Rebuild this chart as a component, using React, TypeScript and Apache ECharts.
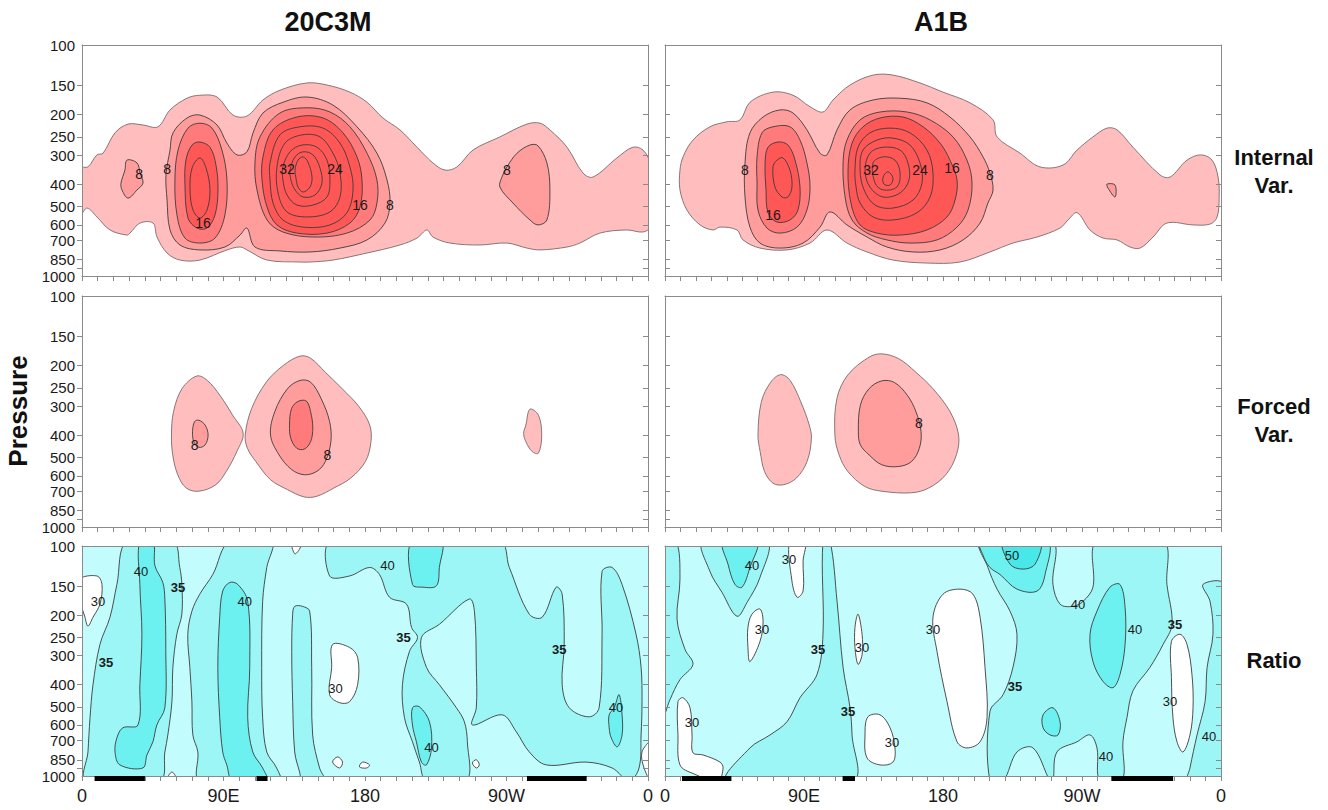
import { useEffect, useRef } from 'react';
import * as echarts from 'echarts';

// ---------- axes ----------
const PRESSURE_LABELS = [100, 150, 200, 250, 300, 400, 500, 600, 700, 850, 1000];
const PRESSURE_TICKS = [150, 200, 250, 300, 400, 500, 600, 700, 850, 925];
const LON_TICKS = Array.from({ length: 37 }, (_, i) => i * 10);
const LON_LABELS = [0, 90, 180, 270, 360];
const LON_NAMES = ['0', '90E', '180', '90W', '0'];
const COLUMN_TITLES = ['20C3M', 'A1B'];
const ROW_TITLES = [['Internal', 'Var.'], ['Forced', 'Var.'], ['Ratio']];

// land bars at the bottom of the ratio panels [lonStart, lonEnd]
const LAND_20C = [[8, 40], [111, 118], [283, 321]];
const LAND_A1B = [[11, 43], [115, 123], [289, 329]];

// ---------- Internal variance, 20C3M : contours [lon, hPa] ----------
const INT20_C4 = [[-1, 341], [3.8, 337], [9.5, 299], [13.4, 294], [21, 240], [29.3, 220], [38.8, 222], [48.3, 226], [56, 191], [66.8, 170], [75, 165], [85.9, 168], [96, 201], [104.9, 203], [115.1, 173], [125.9, 157], [143.1, 146], [155.8, 149], [170.4, 160], [181.3, 177], [191.4, 207], [202.2, 233], [213.1, 277], [223.2, 324], [230.9, 348], [238.5, 337], [248.7, 285], [265.8, 250], [283, 220], [291.3, 218], [297.6, 233], [308.5, 277], [318.6, 358], [325, 373], [340.3, 308], [350.4, 277], [356.8, 285], [361, 324], [361, 614], [356.8, 645], [346.6, 632], [329.4, 652], [316.7, 720], [308.5, 749], [291.3, 771], [283, 757], [270.3, 720], [253.1, 734], [234, 720], [223.2, 678], [219.4, 632], [213.1, 685], [202.2, 734], [181.3, 795], [159.6, 853], [145, 870], [138.7, 870], [117.7, 853], [104.9, 771], [100.5, 749], [92.2, 771], [75, 853], [62.3, 853], [54.1, 795], [47.7, 678], [45.2, 590], [36.9, 590], [30.5, 652], [28.6, 665], [17.8, 632], [9.5, 555], [3.2, 508], [-1, 544]];
const INT20_C8A = [[28.6, 315], [35, 324], [36.9, 358], [38.8, 396], [35, 424], [29.3, 460], [25.4, 424], [24.8, 396], [27.3, 348]];
const INT20_C8B = [[56, 285], [57.9, 240], [66.8, 207], [75, 201], [85.9, 222], [92.2, 266], [98.6, 299], [104.9, 290], [108.8, 240], [115.1, 197], [127.8, 177], [143.1, 168], [159.6, 182], [174.9, 226], [187.6, 294], [194, 384], [195.9, 483], [192.7, 590], [181.3, 698], [164.1, 757], [145, 787], [125.9, 779], [110, 749], [104.9, 620], [100.5, 665], [90.9, 749], [75, 771], [62.3, 734], [56, 632], [54.1, 469], [53.4, 365]];
const INT20_C8C = [[270.3, 337], [276.7, 294], [284.9, 271], [290, 273], [295.7, 324], [297.6, 424], [295.7, 572], [290, 601], [284.9, 572], [274.1, 483], [265.8, 412], [267.1, 373]];
const INT20_C12A = [[59.1, 384], [61.1, 285], [67.4, 229], [75, 218], [82.7, 229], [89, 285], [92.2, 384], [90.9, 544], [84.6, 685], [75, 720], [65.5, 685], [60.4, 544]];
const INT20_C16A = [[65.5, 404], [66.1, 315], [70, 271], [75, 263], [81.4, 277], [85.2, 331], [86.5, 424], [84.6, 544], [79.5, 620], [73.1, 620], [67.4, 561]];
const INT20_C20A = [[68.7, 424], [70, 341], [75, 308], [78.9, 341], [81.4, 424], [79.5, 518], [75, 561], [70.6, 518]];
const INT20_C12B = [[113.2, 250], [125.9, 197], [143.1, 187], [157.7, 195], [170.4, 226], [181.3, 294], [187.6, 384], [187.6, 483], [183.2, 572], [168.5, 652], [146.9, 678], [127.8, 645], [117.7, 572], [111.3, 424], [110, 324]];
const INT20_C16B = [[115.1, 305], [121.5, 233], [136.7, 205], [153.3, 207], [166, 240], [174.9, 305], [178.1, 384], [176.8, 503], [170.4, 590], [155.8, 652], [136.7, 652], [124, 601], [117.7, 503], [114.5, 384]];
const INT20_C20B = [[119.6, 324], [125.9, 245], [138.6, 226], [153.3, 229], [164.1, 266], [170.4, 337], [172.4, 424], [168.5, 532], [157.7, 601], [140.6, 614], [127.8, 572], [121.5, 483], [119.6, 384]];
const INT20_C24B = [[124, 337], [129.1, 266], [139.9, 245], [151.4, 250], [159.6, 294], [164.1, 358], [164.1, 455], [157.7, 528], [143.1, 555], [130.4, 528], [124.7, 437]];
const INT20_C28B = [[127.8, 337], [132.3, 290], [139.9, 271], [149.5, 277], [155.8, 315], [157.7, 384], [155.8, 455], [146.9, 493], [136.7, 493], [130.4, 446], [127.8, 384]];
const INT20_C32B = [[132.3, 348], [135.5, 305], [140.6, 290], [146.9, 299], [151.4, 341], [152.6, 396], [148.2, 446], [140.6, 455], [135.5, 424], [132.9, 384]];
const INT20_C36B = [[135.5, 348], [137.4, 315], [140.6, 305], [143.7, 321], [146.3, 373], [145, 412], [140.6, 433], [137.4, 412], [136.1, 377]];
const INT20_LABELS = [[36.3, 361, '8'], [54.1, 344, '8'], [77, 589, '16'], [130.4, 344, '32'], [160.9, 344, '24'], [176.8, 493, '16'], [195.9, 493, '8'], [270.3, 348, '8']];

// ---------- Internal variance, A1B ----------
const INTA_C4 = [[9.7, 348], [11.7, 305], [18.1, 258], [29.1, 226], [40.1, 215], [48.6, 211], [55, 177], [69.9, 160], [82.9, 165], [93.9, 185], [102.3, 195], [108.8, 173], [119.8, 149], [134.7, 135], [147.6, 135], [165.1, 146], [180, 160], [197.5, 178], [212.4, 211], [215, 250], [229.9, 294], [242.8, 337], [257.7, 331], [266.8, 285], [277.1, 250], [286.2, 229], [292.7, 233], [303, 277], [320.5, 365], [327, 373], [338, 315], [346.9, 299], [354.2, 315], [358.1, 373], [358.8, 455], [357.5, 555], [352.9, 596], [341.9, 601], [325, 590], [316, 678], [307.6, 757], [301.1, 749], [292.7, 698], [283.6, 685], [275.2, 632], [266.8, 532], [261, 572], [255.8, 620], [240.9, 678], [225.3, 720], [210.4, 787], [191, 870], [169.6, 879], [147.6, 853], [130.8, 787], [117.8, 720], [104.9, 632], [93.9, 720], [79, 771], [61.5, 757], [50.5, 698], [46.6, 632], [35.6, 614], [31.1, 632], [22.7, 601], [14.2, 518], [9.7, 424]];
const INTA_C8 = [[51.8, 324], [55, 240], [63.5, 205], [74.5, 191], [82.9, 197], [91.9, 233], [100.4, 294], [104.9, 299], [111.4, 233], [119.8, 191], [134.7, 173], [152.2, 170], [169.6, 178], [184.5, 205], [197.5, 250], [205.9, 305], [210.4, 358], [212.4, 424], [209.1, 483], [204, 590], [193, 698], [178.1, 771], [160.6, 787], [143.7, 749], [130.8, 678], [117.8, 601], [106.8, 528], [100.4, 614], [89.4, 720], [74.5, 757], [61.5, 720], [55, 614], [51.8, 455]];
const INTA_C8T = [[286.2, 400], [291.4, 404], [291.4, 455], [286.8, 416]];
const INTA_C12A = [[59.6, 305], [62.8, 240], [69.9, 226], [80.9, 226], [87.4, 258], [91.9, 324], [93.9, 412], [91.9, 518], [85.5, 614], [74.5, 652], [66, 620], [60.2, 518], [59.6, 396]];
const INTA_C16A = [[64.8, 324], [66.7, 277], [73.2, 263], [79.6, 271], [84.2, 315], [87.4, 412], [86.1, 518], [80.9, 572], [72.5, 584], [66.7, 532], [65.4, 424]];
const INTA_C20A = [[69.9, 337], [72.5, 315], [76.4, 308], [80.9, 348], [82.2, 412], [79.6, 455], [75.8, 455], [71.2, 412]];
const INTA_C12B = [[115.3, 324], [117.8, 258], [126.3, 211], [139.2, 195], [156.7, 195], [171.6, 211], [186.5, 250], [195.5, 315], [198.8, 396], [196.2, 518], [189.1, 614], [176.1, 698], [158.6, 720], [143.7, 698], [130.8, 652], [121.1, 572], [116.6, 455]];
const INTA_C16B = [[118.5, 348], [121.1, 266], [128.2, 226], [139.2, 207], [154.1, 205], [167.1, 226], [178.1, 266], [184.5, 315], [189.1, 384], [187.8, 469], [182.6, 555], [169.6, 632], [152.2, 665], [137.3, 652], [126.3, 601], [120.4, 483]];
const INTA_C20B = [[123, 348], [125, 277], [132.7, 240], [145.7, 229], [158.6, 240], [169.6, 285], [173.5, 358], [171.6, 455], [163.2, 532], [147.6, 572], [134.7, 555], [126.3, 483], [123.7, 412]];
const INTA_C24B = [[126.3, 348], [128.2, 285], [137.3, 258], [147.6, 253], [158.6, 271], [165.1, 324], [166.4, 396], [160.6, 469], [147.6, 508], [136, 493], [128.9, 424]];
const INTA_C28B = [[129.5, 348], [132.7, 294], [141.2, 277], [152.2, 285], [157.3, 324], [158, 384], [152.2, 437], [141.2, 455], [132.7, 412]];
const INTA_C32B = [[134.7, 324], [141.2, 305], [148.9, 315], [152.2, 358], [150.2, 412], [141.2, 424], [136, 396]];
const INTA_C36B = [[141.2, 373], [144.4, 354], [147.6, 377], [145.7, 404], [141.8, 400]];
const INTA_LABELS = [[51.8, 348, '8'], [69.9, 544, '16'], [133.4, 348, '32'], [165.1, 348, '24'], [185.8, 340, '16'], [210.4, 365, '8']];

// ---------- Forced variance, 20C3M ----------
const FOR20_C4A = [[56.9, 400], [58.2, 317], [63.6, 252], [73, 222], [79.7, 232], [87.7, 269], [95.8, 328], [102.5, 393], [98.5, 471], [91.8, 574], [85.1, 656], [74.3, 700], [66.3, 678], [60.9, 594], [57.7, 487]];
const FOR20_C8A = [[71.6, 350], [74.3, 345], [78.3, 362], [80.2, 400], [78.3, 441], [74.3, 452], [71.1, 427], [70.3, 387]];
const FOR20_C4B = [[103.8, 400], [107.9, 307], [117.2, 236], [128, 200], [138.7, 182], [145.4, 186], [154.8, 214], [165.5, 252], [176.3, 302], [183, 362], [183.8, 427], [180.3, 520], [170.9, 614], [160.2, 678], [149.4, 736], [141.4, 741], [130.7, 689], [119.9, 624], [110.5, 520], [105.2, 456]];
const FOR20_C8B = [[119.9, 400], [122.6, 317], [130.7, 252], [138.7, 232], [145.4, 236], [152.1, 278], [157.5, 350], [158.3, 427], [154.8, 520], [149.4, 574], [141.4, 594], [133.3, 564], [125.3, 487]];
const FOR20_C12B = [[132, 362], [133.3, 307], [137.4, 286], [142.7, 285], [145.4, 317], [146.8, 373], [145.4, 427], [141.4, 460], [136.6, 456], [132.8, 413]];
const FOR20_C4C = [[282.3, 362], [284.9, 309], [290.3, 328], [292.4, 400], [290.3, 479], [286.3, 471], [282.3, 427], [280.9, 393]];
const FOR20_LABELS = [[71.6, 441, '8'], [156, 487, '8']];

// ---------- Forced variance, A1B ----------
const FORA_C4A = [[60.2, 400], [62.4, 287], [68.5, 236], [74.9, 219], [81, 232], [87.9, 287], [93.4, 362], [94.8, 413], [92, 520], [85.1, 614], [76.8, 656], [69.9, 646], [64.4, 574], [61.6, 471]];
const FORA_C4B = [[110, 400], [111.3, 278], [118.3, 220], [132.1, 184], [140.4, 178], [151.4, 187], [162.5, 214], [173.5, 252], [184.6, 317], [190.1, 400], [188.7, 487], [181.8, 594], [170.8, 678], [159.7, 711], [140.4, 700], [129.3, 667], [118.3, 574], [112.7, 487]];
const FORA_C8B = [[125.2, 387], [126.5, 297], [132.1, 252], [140.4, 233], [148.6, 237], [156.9, 269], [162.5, 317], [165.8, 387], [164.7, 456], [159.7, 520], [151.4, 547], [140.4, 538], [132.1, 487], [126.5, 441]];
const FORA_LABELS = [[164.4, 355, '8']];

// ---------- Ratio, 20C3M (background 30-35) ----------
const R20_M1 = [[28.6, 95], [22.2, 147], [17.8, 204], [11.4, 268], [7, 401], [5.1, 558], [3.8, 786], [2.5, 1050], [49.5, 1050], [52.7, 786], [54.6, 663], [57.2, 475], [57.8, 337], [60.3, 242], [63.5, 198], [63.5, 147], [62.2, 124], [57.8, 95]];
const R20_D1 = [[36.8, 95], [36.8, 147], [38.1, 242], [36.8, 401], [35.6, 600], [26, 617], [22.2, 682], [21, 786], [24.1, 895], [38.7, 923], [41.3, 810], [45.1, 710], [47.6, 600], [52.7, 505], [53.3, 282], [52.7, 170], [51.4, 144], [46.4, 122], [45.1, 95]];
const R20_M2 = [[94, 95], [83.2, 133], [74.9, 162], [69.9, 192], [67.3, 242], [68.6, 337], [69.9, 475], [70.5, 663], [73.7, 786], [74.9, 1050], [125.7, 1050], [123.8, 923], [117.5, 786], [114.9, 558], [114.3, 337], [114.9, 174], [117.5, 124], [120.7, 95]];
const R20_D2 = [[94, 144], [99.1, 147], [105.4, 174], [106.7, 337], [105.4, 558], [108.6, 786], [114.9, 923], [117.5, 1050], [95.9, 1050], [92.1, 895], [89.5, 786], [87.6, 558], [86.4, 337], [87.6, 204], [89.5, 157]];
const R20_M3 = [[134, 198], [135.3, 183], [140.3, 183], [144.8, 192], [146.1, 337], [146.7, 663], [151.1, 923], [154.3, 1050], [140.3, 1050], [138.4, 960], [135.3, 786], [134, 475], [133.4, 287]];
const R20_M5 = [[158.8, 95], [157.5, 135], [170.2, 135], [182.9, 124], [189.2, 133], [195.6, 167], [206.4, 179], [209.6, 226], [213.4, 250], [208.3, 287], [203.8, 401], [205.1, 558], [210.2, 710], [214.6, 870], [219.1, 1050], [244.5, 1050], [245.1, 710], [243.2, 581], [238.1, 505], [227.3, 401], [219.1, 337], [215.9, 250], [227.3, 219], [246.4, 170], [249.6, 192], [250.8, 337], [250.8, 505], [248.3, 600], [267.3, 542], [276.2, 642], [284.5, 786], [295.3, 895], [320.7, 870], [337.2, 923], [348, 1050], [354.3, 923], [355.6, 663], [356.2, 475], [355.6, 337], [352.4, 242], [343.5, 147], [337.2, 124], [330.8, 129], [330.8, 242], [328.9, 505], [322.6, 553], [309.9, 505], [305.4, 401], [306.7, 268], [305.4, 162], [301.6, 151], [292.7, 204], [284.5, 198], [271.8, 124], [265.4, 95]];
const R20_D4 = [[209.6, 95], [210.2, 147], [216.5, 151], [225.4, 149], [227.3, 124], [228.6, 95]];
const R20_D5 = [[335.3, 542], [338.5, 505], [341.6, 443], [343.5, 542], [343.5, 663], [340.4, 747], [336.6, 682], [335.3, 617]];
const R20_D6 = [[210.2, 505], [214.6, 500], [221, 581], [222.3, 755], [219.1, 895], [215.9, 870], [212.7, 710], [210.2, 600]];
const R20_W1 = [[-2, 140], [9.5, 135], [12.7, 147], [11.4, 179], [7, 204], [3.8, 223], [1.9, 204], [-2, 165]];
const R20_W2 = [[159.4, 268], [170.2, 276], [175.3, 305], [175.3, 401], [170.2, 475], [163.8, 480], [157.5, 443], [158.8, 337]];
const R20_W3 = [[159.4, 870], [162.6, 826], [165.7, 870], [163.8, 923]];
const R20_W5 = [[133.4, 95], [135.3, 108], [138.4, 103], [139.7, 95]];
const R20_W6 = [[54, 1050], [57.2, 960], [60.3, 1050]];
const R20_W7 = [[178.4, 870], [182.9, 895], [181, 923], [176.5, 913]];
const R20_W8 = [[248.3, 877], [250.8, 850], [252.7, 895], [250.8, 923]];
const R20_W9 = [[356.2, 786], [362, 710], [362, 1050], [357.5, 923]];
const R20_LABELS = [[37.5, 129, '40'], [61, 152, '35'], [103.5, 174, '40'], [10.2, 174, '30'], [15.2, 321, '35'], [194.3, 122, '40'], [204.5, 250, '35'], [161.3, 417, '30'], [303.5, 282, '35'], [222.3, 755, '40'], [339.7, 505, '40']];

// ---------- Ratio, A1B ----------
const RA_MB = [[-2, 95], [7.1, 95], [9.7, 139], [7.8, 208], [13, 282], [18.1, 327], [9.7, 381], [3.2, 466], [-2, 570]];
const RA_MA = [[24.6, 95], [29.1, 129], [36.9, 159], [46.6, 202], [53.1, 176], [61.5, 137], [66, 95]];
const RA_DA = [[37.6, 95], [40.8, 120], [45.3, 147], [49.9, 151], [55, 124], [59.6, 95]];
const RA_MC = [[102.3, 95], [106.8, 95], [111.4, 174], [115.3, 337], [119.8, 505], [121.1, 663], [121.7, 1050], [40.1, 1050], [55, 755], [68, 663], [79, 581], [87.4, 457], [98.4, 362], [102.3, 242]];
const RA_MF = [[204, 95], [250.6, 95], [251.2, 147], [255.8, 179], [264.2, 183], [270.7, 174], [277.1, 151], [279.7, 95], [322.5, 95], [325, 147], [328.3, 219], [322.5, 268], [314, 337], [303, 426], [299.1, 558], [296.5, 710], [295.9, 1050], [281.7, 1050], [279.7, 755], [275.2, 663], [266.8, 710], [253.8, 786], [251.2, 1050], [249.3, 1050], [238.3, 755], [227.9, 786], [218.9, 1050], [210.4, 1050], [210.4, 524], [218.9, 443], [225.3, 337], [227.9, 242], [223.4, 192], [215, 154], [209.1, 124]];
const RA_ME = [[204, 95], [247.3, 95], [246.1, 133], [240.9, 157], [227.9, 154], [216.9, 133], [210.4, 124], [206, 110]];
const RA_EE = [[218.9, 95], [223.4, 120], [231.8, 126], [239.6, 120], [242.8, 95]];
const RA_DI = [[275.2, 242], [279.7, 192], [288.1, 151], [294.6, 147], [297.9, 185], [297.9, 268], [294.6, 362], [290.1, 413], [283.6, 388], [277.1, 318]];
const RA_DJ = [[244.8, 542], [251.2, 505], [255.8, 581], [254.5, 663], [249.3, 663], [244.8, 617]];
const RA_MR = [[348.3, 147], [352.9, 174], [354.8, 242], [351, 337], [349.7, 475], [344.5, 663], [339.9, 923], [338.6, 1050], [362, 1050], [362, 147]];
const RA_WA = [[80.9, 95], [82.2, 142], [85.5, 167], [89.4, 157], [89.4, 116], [90.7, 95]];
const RA_WB = [[53.7, 226], [56.3, 198], [61.5, 188], [63.5, 213], [61.5, 260], [55, 318], [53.7, 276]];
const RA_WC = [[123, 226], [125, 198], [127.6, 242], [127.6, 297], [125, 327], [123, 276]];
const RA_WD = [[173.5, 204], [180, 162], [191, 154], [199.4, 162], [204, 204], [207.2, 337], [208.5, 558], [204, 710], [195.5, 755], [189.1, 710], [182.6, 475], [176.1, 287]];
const RA_WE = [[129.5, 663], [131.4, 553], [139.2, 542], [145.7, 617], [148.9, 755], [147.6, 870], [139.2, 895], [130.8, 834]];
const RA_WF = [[8.4, 475], [11.7, 457], [16.2, 505], [17.5, 663], [18.1, 793], [24.6, 810], [35.6, 870], [37.6, 923], [34.3, 1050], [18.1, 975], [9.7, 895], [8.4, 663]];
const RA_WG = [[327.9, 260], [333.5, 242], [338, 268], [341.2, 362], [341.9, 505], [339.9, 663], [335.4, 786], [331.5, 710], [328.9, 558], [327.9, 373]];
const RA_LABELS = [[56.3, 122, '40'], [80.3, 115, '30'], [62.8, 230, '30'], [99, 282, '35'], [127.6, 276, '30'], [173.5, 230, '30'], [118.5, 524, '35'], [147, 715, '30'], [17.5, 587, '30'], [224.7, 110, '50'], [267.4, 179, '40'], [304.3, 230, '40'], [330.2, 219, '35'], [226.6, 409, '35'], [327, 475, '30'], [285.5, 826, '40'], [352.2, 676, '40']];

// ---------- colours ----------
const PINK = '#ffbdbd';
const SALMON = '#ff9c9c';
const RED2 = '#ff7a7a';
const RED3 = '#ff5656';
const WHITE = '#ffffff';
const LIGHT = '#c2fcfc';
const MED = '#9cf6f6';
const DARK = '#6cf0f0';
const DARKER = '#48e8e8';

function redFill(level: number) {
  if (level <= 4) return PINK;
  if (level <= 8) return SALMON;
  if (level <= 12) return RED2;
  return RED3;
}
function cyanFill(level: number) {
  if (level <= 30) return WHITE;
  if (level <= 35) return MED;
  if (level <= 40) return DARK;
  return DARKER;
}

const PANELS = [
  {
    grid: { left: 82, top: 45, width: 566, height: 231 }, kind: 'red', labels: INT20_LABELS,
    polys: [[INT20_C4, 4], [INT20_C8A, 8], [INT20_C8B, 8], [INT20_C8C, 8], [INT20_C12A, 12], [INT20_C16A, 16], [INT20_C20A, 20], [INT20_C12B, 12], [INT20_C16B, 16], [INT20_C20B, 20], [INT20_C24B, 24], [INT20_C28B, 28], [INT20_C32B, 32], [INT20_C36B, 36]],
  },
  {
    grid: { left: 665, top: 45, width: 556, height: 231 }, kind: 'red', labels: INTA_LABELS,
    polys: [[INTA_C4, 4], [INTA_C8, 8], [INTA_C8T, 8], [INTA_C12A, 12], [INTA_C16A, 16], [INTA_C20A, 20], [INTA_C12B, 12], [INTA_C16B, 16], [INTA_C20B, 20], [INTA_C24B, 24], [INTA_C28B, 28], [INTA_C32B, 32], [INTA_C36B, 36]],
  },
  {
    grid: { left: 82, top: 296, width: 566, height: 231 }, kind: 'red', labels: FOR20_LABELS,
    polys: [[FOR20_C4A, 4], [FOR20_C8A, 8], [FOR20_C4B, 4], [FOR20_C8B, 8], [FOR20_C12B, 12], [FOR20_C4C, 4]],
  },
  {
    grid: { left: 665, top: 296, width: 556, height: 231 }, kind: 'red', labels: FORA_LABELS,
    polys: [[FORA_C4A, 4], [FORA_C4B, 4], [FORA_C8B, 8]],
  },
  {
    grid: { left: 82, top: 546, width: 566, height: 230 }, kind: 'cyan', labels: R20_LABELS, land: LAND_20C,
    polys: [[R20_M1, 35], [R20_D1, 40], [R20_M2, 35], [R20_D2, 40], [R20_M3, 35], [R20_M5, 35], [R20_D4, 40], [R20_D5, 40], [R20_D6, 40], [R20_W1, 30], [R20_W2, 30], [R20_W3, 30], [R20_W5, 30], [R20_W6, 30], [R20_W7, 30], [R20_W8, 30], [R20_W9, 30]],
  },
  {
    grid: { left: 665, top: 546, width: 556, height: 230 }, kind: 'cyan', labels: RA_LABELS, land: LAND_A1B,
    polys: [[RA_MB, 35], [RA_MA, 35], [RA_DA, 40], [RA_MC, 35], [RA_MF, 35], [RA_ME, 40], [RA_EE, 50], [RA_DI, 40], [RA_DJ, 40], [RA_MR, 35], [RA_WA, 30], [RA_WB, 30], [RA_WC, 30], [RA_WD, 30], [RA_WE, 30], [RA_WF, 30], [RA_WG, 30]],
  },
];

const FONT = '"Liberation Sans", Arial, Helvetica, sans-serif';
const AXIS_COLOR = '#8a8a8a';

function centeredText(text: string, x: number, y: number, font: string, extra: any = {}) {
  return {
    type: 'text', x, y, ...extra,
    style: { text, font, fill: '#111', align: 'center', verticalAlign: 'middle', textAlign: 'center', textVerticalAlign: 'middle' },
  };
}

function buildOption() {
  const grid: any[] = [];
  const xAxis: any[] = [];
  const yAxis: any[] = [];
  const series: any[] = [];

  PANELS.forEach((panel, i) => {
    const isLeftCol = i % 2 === 0;
    const isBottom = i >= 4;
    grid.push({
      ...panel.grid,
      show: true,
      backgroundColor: panel.kind === 'cyan' ? LIGHT : '#ffffff',
      borderWidth: 0,
      containLabel: false,
      outerBoundsMode: 'none',
    });
    xAxis.push({
      gridIndex: i, type: 'value', min: 0, max: 360, interval: 10, position: 'bottom', z: 10,
      axisLine: { show: true, onZero: false, lineStyle: { color: AXIS_COLOR, width: 1 } },
      axisTick: { show: true, inside: false, length: 5, customValues: LON_TICKS, lineStyle: { color: AXIS_COLOR } },
      axisLabel: isBottom
        ? {
            show: true, customValues: LON_LABELS, margin: 11, fontSize: 18, color: '#1a1a1a', fontFamily: FONT,
            formatter: (v: number) => LON_NAMES[LON_LABELS.indexOf(Math.round(v))] ?? '',
          }
        : { show: false },
      splitLine: { show: false },
    });
    xAxis.push({
      gridIndex: i, type: 'value', min: 0, max: 360, position: 'top', z: 10,
      axisLine: { show: true, onZero: false, lineStyle: { color: AXIS_COLOR, width: 1 } },
      axisTick: { show: false }, axisLabel: { show: false }, splitLine: { show: false },
    });
    yAxis.push({
      gridIndex: i, type: 'log', logBase: 10, min: 100, max: 1000, inverse: true, position: 'left', z: 10,
      axisLine: { show: true, onZero: false, lineStyle: { color: AXIS_COLOR, width: 1 } },
      axisTick: { show: true, inside: !isLeftCol, length: 5, customValues: PRESSURE_TICKS, lineStyle: { color: AXIS_COLOR } },
      axisLabel: isLeftCol
        ? {
            show: true, customValues: PRESSURE_LABELS, margin: 7, fontSize: 15, color: '#1a1a1a', fontFamily: FONT,
            formatter: (v: number) => String(Math.round(v)),
          }
        : { show: false },
      splitLine: { show: false },
    });
    yAxis.push({
      gridIndex: i, type: 'log', logBase: 10, min: 100, max: 1000, inverse: true, position: 'right', z: 10,
      axisLine: { show: true, onZero: false, lineStyle: { color: AXIS_COLOR, width: 1 } },
      axisTick: { show: true, inside: true, length: 5, customValues: PRESSURE_TICKS, lineStyle: { color: AXIS_COLOR } },
      axisLabel: { show: false },
      splitLine: { show: false },
    });

    const polys = panel.polys.map(([pts, level]: any) => ({
      pts,
      fill: panel.kind === 'red' ? redFill(level) : cyanFill(level),
      stroke: panel.kind === 'red' && level <= 4 ? '#7a6a6a' : '#3c3c3c',
    }));

    series.push({
      type: 'custom',
      xAxisIndex: 2 * i,
      yAxisIndex: 2 * i,
      clip: true,
      silent: true,
      z: 2,
      data: polys.map((p: any) => p.pts[0]),
      renderItem: (params: any, api: any) => {
        const poly = polys[params.dataIndex];
        const points = poly.pts.map((pt: number[]) => api.coord([pt[0], pt[1]]));
        return {
          type: 'polygon',
          shape: { points, smooth: 0.35 },
          style: { fill: poly.fill, stroke: poly.stroke, lineWidth: 0.9 },
        };
      },
    });

    const labels = panel.labels;
    const labelSize = panel.kind === 'red' ? 14 : 13;
    series.push({
      type: 'custom',
      xAxisIndex: 2 * i,
      yAxisIndex: 2 * i,
      silent: true,
      z: 4,
      data: labels.map((l: any) => [l[0], l[1]]),
      renderItem: (params: any, api: any) => {
        const l = labels[params.dataIndex];
        const c = api.coord([l[0], l[1]]);
        const bold = l[2] === '35';
        return {
          type: 'text',
          x: c[0],
          y: c[1],
          style: {
            text: l[2],
            fill: '#1a1a1a',
            font: `${bold ? 'bold ' : ''}${labelSize}px ${FONT}`,
            align: 'center',
            verticalAlign: 'middle',
            textAlign: 'center',
            textVerticalAlign: 'middle',
          },
        };
      },
    });

    if (panel.land) {
      const land = panel.land;
      series.push({
        type: 'custom',
        xAxisIndex: 2 * i,
        yAxisIndex: 2 * i,
        silent: true,
        clip: false,
        z: 12,
        data: land.map((r: number[]) => [r[0], 1000]),
        renderItem: (params: any, api: any) => {
          const r = land[params.dataIndex];
          const a = api.coord([r[0], 1000]);
          const b = api.coord([r[1], 1000]);
          return {
            type: 'rect',
            shape: { x: a[0], y: a[1], width: b[0] - a[0], height: 5 },
            style: { fill: '#000000' },
          };
        },
      });
    }
  });

  const graphic: any[] = [
    centeredText(COLUMN_TITLES[0], 328, 22, `bold 27px ${FONT}`),
    centeredText(COLUMN_TITLES[1], 941, 22, `bold 27px ${FONT}`),
    centeredText('Pressure', 18, 411, `bold 26px ${FONT}`, { rotation: Math.PI / 2 }),
  ];
  const rowCenters = [171, 420, 660];
  ROW_TITLES.forEach((lines, r) => {
    const lh = 28;
    lines.forEach((t, k) => {
      graphic.push(centeredText(t, 1274, rowCenters[r] + (k - (lines.length - 1) / 2) * lh, `bold 22px ${FONT}`));
    });
  });

  return {
    animation: false,
    backgroundColor: '#ffffff',
    grid,
    xAxis,
    yAxis,
    series,
    graphic,
  };
}

export default function App() {
  const ref = useRef<HTMLDivElement>(null);
  useEffect(() => {
    document.body.style.margin = '0';
    const chart = echarts.init(ref.current as HTMLDivElement, null, { renderer: 'svg' });
    chart.setOption(buildOption() as any);
    return () => chart.dispose();
  }, []);
  return <div ref={ref} style={{ width: 1328, height: 810 }} />;
}
